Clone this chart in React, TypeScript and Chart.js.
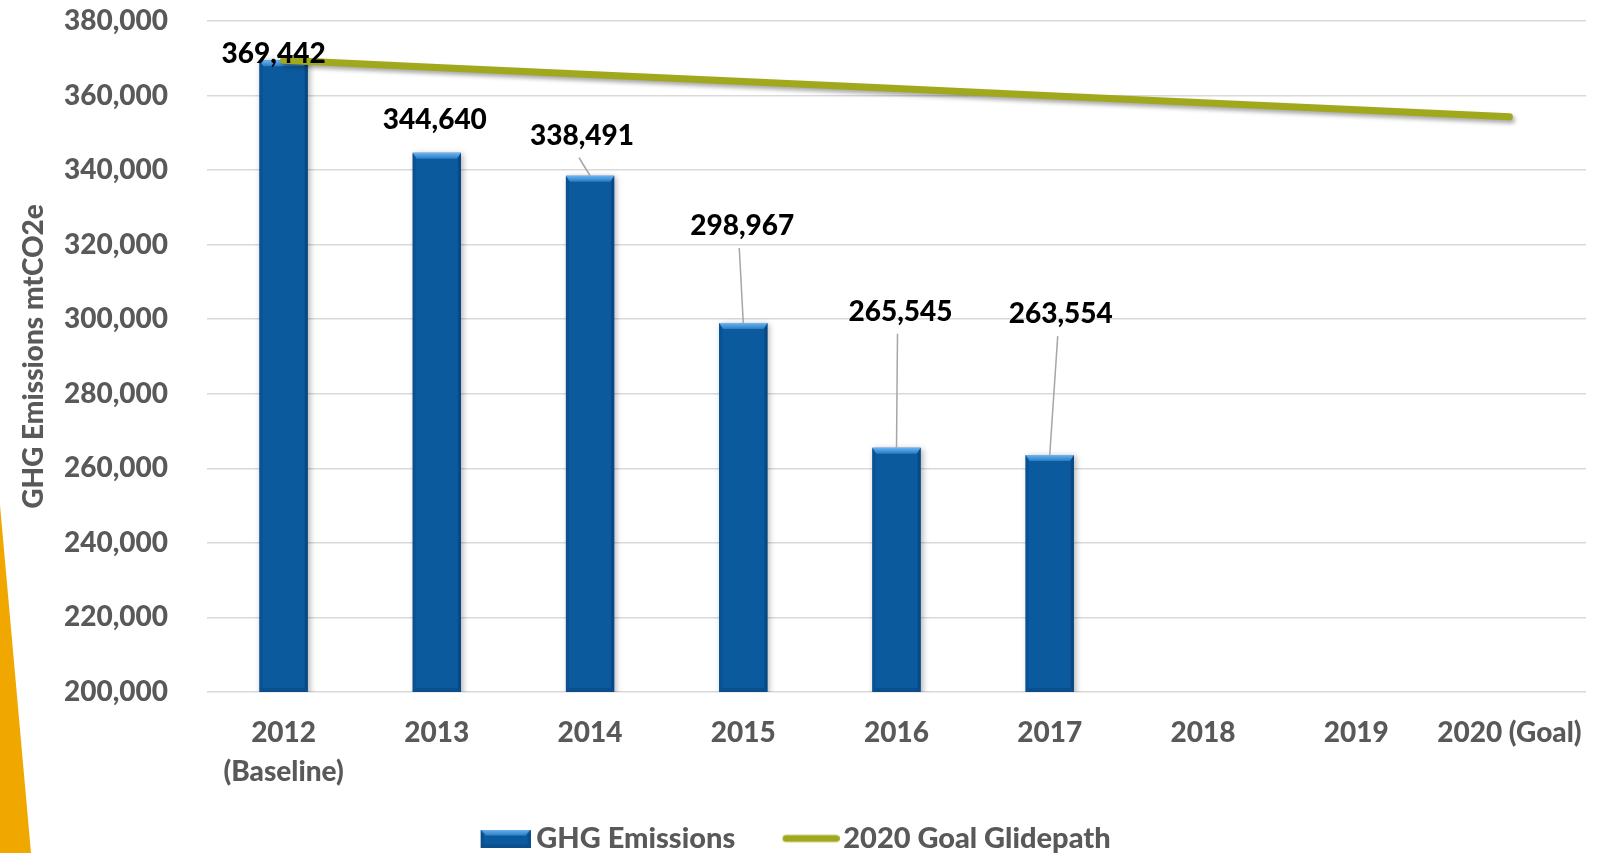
import React, { useEffect, useRef } from "react";
import { Chart, registerables } from "chart.js";

Chart.register(...registerables);

// ---- data ----
const categories: (string | string[])[] = [
  ["2012", "(Baseline)"],
  "2013",
  "2014",
  "2015",
  "2016",
  "2017",
  "2018",
  "2019",
  "2020 (Goal)",
];
const emissions: (number | null)[] = [369442, 344640, 338491, 298967, 265545, 263554, null, null, null];
const glidepath: number[] = [369442, 367550, 365660, 363760, 361870, 359980, 358080, 356190, 354300];
const seriesNames = ["GHG Emissions", "2020 Goal Glidepath"];
const yAxisTitle = "GHG Emissions mtCO2e";
const yMin = 200000;
const yMax = 380000;
const yStep = 20000;

// ---- style ----
const FONT = "Lato, 'Open Sans', sans-serif";
const GRAY = "#595959";
const BAR_BLUE = "#0B5A9E";
const OLIVE = "#A0A81C";
const LEGEND_SHIFT = -16;
const HEAVY = "900";
// label placement relative to bar top: [dx, dy, leader line]
const labelPlacement: [number, number, boolean][] = [
  [-10, -6, false],
  [-2, -33, false],
  [-8, -40, true],
  [-1, -97, true],
  [4, -136, true],
  [11, -141, true],
];

function makeBarLegendImage(): HTMLCanvasElement {
  const c = document.createElement("canvas");
  c.width = 79;
  c.height = 18;
  const ctx = c.getContext("2d")!;
  const x0 = 29;
  const w = 50;
  ctx.fillStyle = "#0A4F8C";
  ctx.fillRect(x0, 0, w, 18);
  ctx.fillStyle = BAR_BLUE;
  ctx.fillRect(x0 + 3, 5, w - 6, 10);
  const g = ctx.createLinearGradient(0, 0, 0, 6);
  g.addColorStop(0, "#6AB4F0");
  g.addColorStop(1, "#2F80C8");
  ctx.fillStyle = g;
  ctx.beginPath();
  ctx.moveTo(x0, 0);
  ctx.lineTo(x0 + w, 0);
  ctx.lineTo(x0 + w - 5, 6);
  ctx.lineTo(x0 + 5, 6);
  ctx.closePath();
  ctx.fill();
  return c;
}

function makeLineLegendImage(): HTMLCanvasElement {
  const c = document.createElement("canvas");
  c.width = 83;
  c.height = 10;
  const ctx = c.getContext("2d")!;
  ctx.strokeStyle = OLIVE;
  ctx.lineWidth = 7;
  ctx.lineCap = "round";
  ctx.beginPath();
  ctx.moveTo(29.5, 5);
  ctx.lineTo(79.5, 5);
  ctx.stroke();
  return c;
}

const effectsPlugin = {
  id: "effects",
  afterLayout(chart: any) {
    if (chart.legend) {
      chart.legend.left += LEGEND_SHIFT;
      chart.legend.right += LEGEND_SHIFT;
    }
  },
  beforeDatasetDraw(chart: any, args: any) {
    const ctx = chart.ctx;
    ctx.save();
    if (args.index === 0) {
      ctx.shadowColor = "rgba(0,0,0,0.3)";
      ctx.shadowBlur = 6;
      ctx.shadowOffsetX = 2;
      ctx.shadowOffsetY = 1;
    } else {
      ctx.shadowColor = "rgba(0,0,0,0.35)";
      ctx.shadowBlur = 4;
      ctx.shadowOffsetX = 2;
      ctx.shadowOffsetY = 3;
    }
  },
  afterDatasetDraw(chart: any, args: any) {
    const ctx = chart.ctx;
    ctx.restore();
    if (args.index !== 0) return;
    const data = chart.data.datasets[0].data;
    const area = chart.chartArea;
    args.meta.data.forEach((bar: any, i: number) => {
      if (data[i] == null) return;
      const { x, y, width } = bar.getProps(["x", "y", "width"], true);
      const base = area.bottom;
      const l = x - width / 2;
      const r = x + width / 2;
      const b = 6;
      ctx.save();
      ctx.fillStyle = "#0A5192";
      ctx.beginPath();
      ctx.moveTo(l, y);
      ctx.lineTo(l + 3, y + b);
      ctx.lineTo(l + 3, base - 4);
      ctx.lineTo(l, base);
      ctx.closePath();
      ctx.fill();
      ctx.fillStyle = "#084883";
      ctx.beginPath();
      ctx.moveTo(r, y);
      ctx.lineTo(r - 3, y + b);
      ctx.lineTo(r - 3, base - 4);
      ctx.lineTo(r, base);
      ctx.closePath();
      ctx.fill();
      ctx.fillStyle = "#0A4E8C";
      ctx.beginPath();
      ctx.moveTo(l, base);
      ctx.lineTo(r, base);
      ctx.lineTo(r - 3, base - 4);
      ctx.lineTo(l + 3, base - 4);
      ctx.closePath();
      ctx.fill();
      const g = ctx.createLinearGradient(0, y, 0, y + b);
      g.addColorStop(0, "#6AB4F0");
      g.addColorStop(1, "#2A7BC4");
      ctx.fillStyle = g;
      ctx.beginPath();
      ctx.moveTo(l, y);
      ctx.lineTo(r, y);
      ctx.lineTo(r - 4, y + b);
      ctx.lineTo(l + 4, y + b);
      ctx.closePath();
      ctx.fill();
      ctx.restore();
    });
  },
  afterDraw(chart: any) {
    const ctx = chart.ctx;
    const meta = chart.getDatasetMeta(0);
    const data = chart.data.datasets[0].data;
    ctx.save();
    meta.data.forEach((bar: any, i: number) => {
      const v = data[i];
      if (v == null) return;
      const p = labelPlacement[i] || [0, -20, false];
      const { x, y } = bar.getProps(["x", "y"], true);
      const cx = x + p[0];
      const cy = y + p[1];
      if (p[2]) {
        ctx.strokeStyle = "#A6A6A6";
        ctx.lineWidth = 1.5;
        ctx.beginPath();
        ctx.moveTo(cx - 3, cy + 22);
        ctx.lineTo(x, y);
        ctx.stroke();
      }
      ctx.font = `900 28px ${FONT}`;
      ctx.fillStyle = "#000000";
      ctx.textAlign = "center";
      ctx.textBaseline = "middle";
      ctx.fillText(Number(v).toLocaleString("en-US"), cx, cy);
    });
    ctx.restore();
  },
};

export default function App() {
  const canvasRef = useRef<HTMLCanvasElement | null>(null);

  useEffect(() => {
    if (!canvasRef.current) return;
    const barImg = makeBarLegendImage();
    const lineImg = makeLineLegendImage();
    const chart = new Chart(canvasRef.current, {
      type: "bar",
      data: {
        labels: categories as any,
        datasets: [
          {
            type: "bar",
            label: seriesNames[0],
            data: emissions as any,
            backgroundColor: BAR_BLUE,
            borderWidth: 0,
            barPercentage: 0.315,
            categoryPercentage: 1,
            order: 1,
          },
          {
            type: "line",
            label: seriesNames[1],
            data: glidepath,
            borderColor: OLIVE,
            backgroundColor: OLIVE,
            borderWidth: 7,
            borderCapStyle: "round",
            pointRadius: 0,
            pointHoverRadius: 0,
            tension: 0,
            order: 0,
          } as any,
        ],
      },
      options: {
        responsive: false,
        animation: false,
        devicePixelRatio: 1,
        layout: { padding: { left: 17, right: 14, top: 21, bottom: 0 } },
        plugins: {
          tooltip: { enabled: false },
          legend: {
            display: true,
            position: "bottom",
            labels: {
              usePointStyle: true,
              pointStyleWidth: 61.5,
              boxHeight: 17,
              padding: 32,
              color: GRAY,
              font: { family: FONT, size: 29, weight: HEAVY },
              sort: (a: any, b: any) => a.datasetIndex - b.datasetIndex,
              generateLabels: (ch: any) => {
                const items = Chart.defaults.plugins.legend.labels.generateLabels(ch);
                return items.map((it: any) => ({
                  ...it,
                  pointStyle: it.datasetIndex === 0 ? barImg : lineImg,
                  fontColor: GRAY,
                }));
              },
            },
          },
        },
        scales: {
          x: {
            grid: {
              display: true,
              drawOnChartArea: false,
              drawTicks: true,
              tickLength: 21,
              color: "rgba(0,0,0,0)",
              tickColor: "rgba(0,0,0,0)",
            },
            border: { display: false },
            ticks: {
              color: GRAY,
              padding: 0,
              maxRotation: 0,
              autoSkip: false,
              font: { family: FONT, size: 28, weight: HEAVY, lineHeight: 1.4 },
            },
            afterFit: (s: any) => {
              s.height = 100;
            },
          },
          y: {
            min: yMin,
            max: yMax,
            grid: {
              color: "#D9D9D9",
              lineWidth: 1.5,
              drawTicks: true,
              tickLength: 39,
              tickColor: "rgba(0,0,0,0)",
            },
            border: { display: false },
            ticks: {
              stepSize: yStep,
              padding: 0,
              color: GRAY,
              font: { family: FONT, size: 28, weight: HEAVY },
              callback: (v: any) => Number(v).toLocaleString("en-US"),
            },
            title: {
              display: true,
              text: yAxisTitle,
              color: GRAY,
              padding: { top: 0, bottom: 0 },
              font: { family: FONT, size: 28, weight: HEAVY, lineHeight: 1.2 },
            },
            afterFit: (s: any) => {
              s.width = 190;
            },
          },
        },
      },
      plugins: [effectsPlugin],
    });
    return () => chart.destroy();
  }, []);

  return (
    <div style={{ position: "absolute", left: 0, top: 0, width: 1600, height: 853, overflow: "hidden", background: "#FFFFFF" }}>
      <div
        style={{
          position: "absolute",
          left: 0,
          top: 0,
          width: 40,
          height: 853,
          background: "#F0A800",
          clipPath: "polygon(0px 505px, 31px 853px, 0px 853px)",
        }}
      />
      <canvas ref={canvasRef} width={1600} height={863} style={{ position: "absolute", left: 0, top: 0, width: 1600, height: 863 }} />
    </div>
  );
}
